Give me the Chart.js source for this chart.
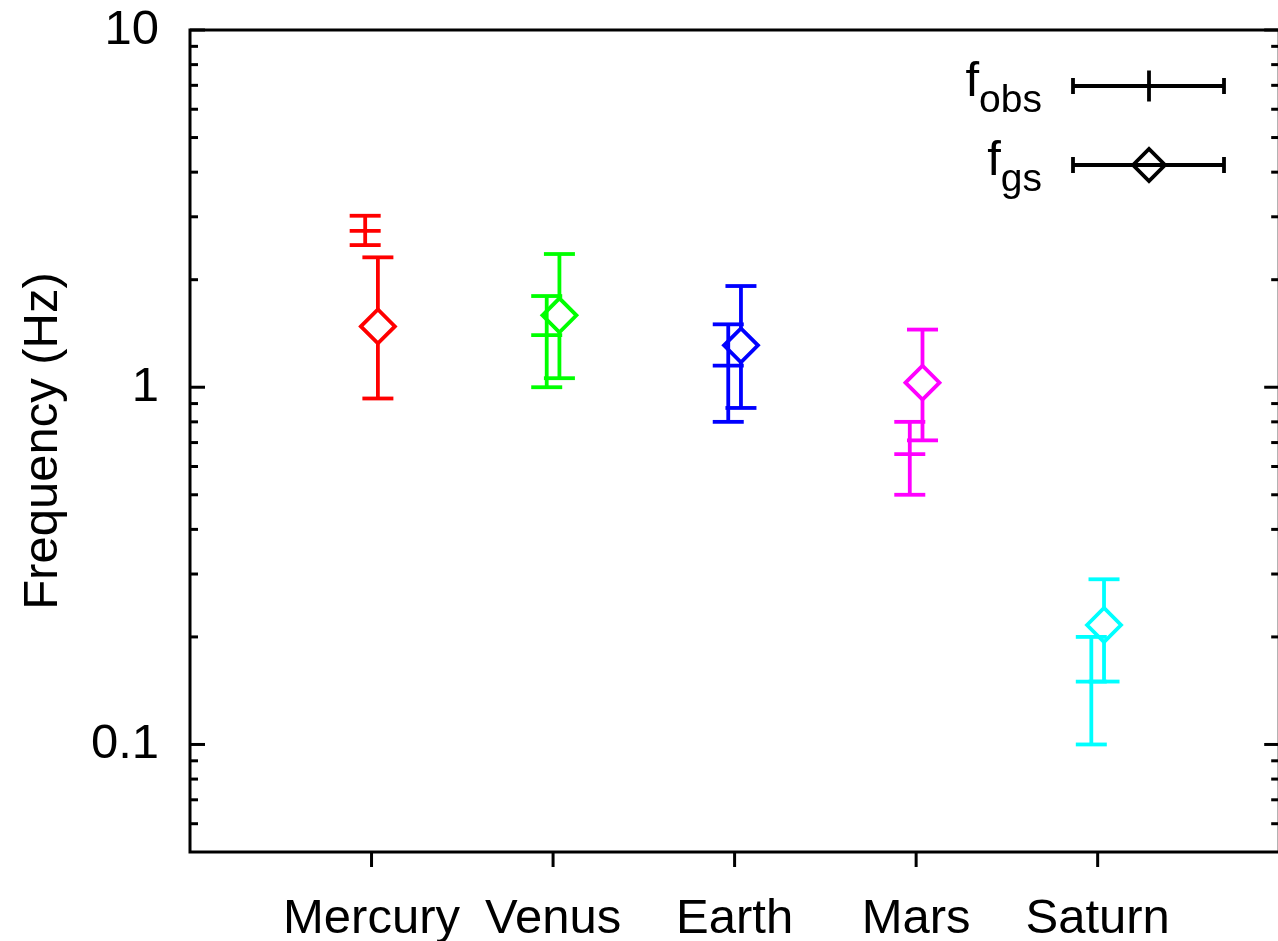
<!DOCTYPE html>
<html>
<head>
<meta charset="utf-8">
<script src="https://cdn.jsdelivr.net/npm/chart.js@4/dist/chart.umd.min.js"></script>
<style>
  html, body { margin: 0; padding: 0; overflow: hidden; background: #fff; }
  canvas { display: block; }
</style>
</head>
<body>
<canvas id="freqchart" width="1300" height="941" style="width:1300px;height:941px"></canvas>
<script>
// planets on the x axis (positions 1..5)
const planets = ['Mercury', 'Venus', 'Earth', 'Mars', 'Saturn'];
const planetcolors = ['#ff0000', '#00ff00', '#0000ff', '#ff00ff', '#00ffff'];

// observed frequency (Hz) with error range
const obsValue = [2.74, 1.40, 1.15, 0.65, 0.15];
const obsLow = [2.50, 1.00, 0.80, 0.50, 0.10];
const obsHigh = [3.02, 1.80, 1.50, 0.80, 0.20];

// gs frequency (Hz) with error range
const gsValue = [1.48, 1.59, 1.31, 1.03, 0.216];
const gsLow = [0.93, 1.06, 0.875, 0.71, 0.15];
const gsHigh = [2.31, 2.36, 1.92, 1.45, 0.29];

// y ticks
const yMajorTicks = [0.1, 1, 10];
const yTickLabels = ['0.1', '1', '10'];
const yMinorTicks = [0.06, 0.07, 0.08, 0.09, 0.2, 0.3, 0.4, 0.5, 0.6, 0.7, 0.8, 0.9, 2, 3, 4, 5, 6, 7, 8, 9];

const obsShift = -0.035;
const gsShift = 0.035;
const capHalf = 15.5;
const diamondR = 17;
const barwidth = 3.8;
const fontname = '"Liberation Sans", Arial, Helvetica, sans-serif';

function obspoints() {
    let pts = [];
    for (let i = 0; i < planets.length; ++i) {
        pts.push({ x: i + 1 + obsShift, y: obsValue[i] });
    }
    return pts;
}
function gspoints() {
    let pts = [];
    for (let i = 0; i < planets.length; ++i) {
        pts.push({ x: i + 1 + gsShift, y: gsValue[i] });
    }
    return pts;
}

function hline(ctx, x1, x2, y) {
    ctx.beginPath();
    ctx.moveTo(x1, y);
    ctx.lineTo(x2, y);
    ctx.stroke();
}
function vline(ctx, x, y1, y2) {
    ctx.beginPath();
    ctx.moveTo(x, y1);
    ctx.lineTo(x, y2);
    ctx.stroke();
}

// frame, inward ticks, x ticks
const framePlugin = {
    id: 'frame',
    afterDraw(chart) {
        const ctx = chart.ctx;
        const a = chart.chartArea;
        const xs = chart.scales.x;
        const ys = chart.scales.y;
        ctx.save();
        ctx.strokeStyle = '#000';
        ctx.lineWidth = 3;
        ctx.lineCap = 'butt';
        ctx.strokeRect(a.left, a.top, a.right - a.left, a.bottom - a.top);
        yMajorTicks.forEach(v => {
            const y = ys.getPixelForValue(v);
            hline(ctx, a.left, a.left + 15, y);
            hline(ctx, a.right - 15, a.right, y);
        });
        yMinorTicks.forEach(v => {
            const y = ys.getPixelForValue(v);
            hline(ctx, a.left, a.left + 8, y);
            hline(ctx, a.right - 8, a.right, y);
        });
        for (let i = 0; i < planets.length; ++i) {
            const x = xs.getPixelForValue(i + 1);
            vline(ctx, x, a.bottom, a.bottom + 15);
        }
        ctx.restore();
    }
};

// error bars
const errorbarPlugin = {
    id: 'errorbars',
    beforeDatasetsDraw(chart) {
        const ctx = chart.ctx;
        const xs = chart.scales.x;
        const ys = chart.scales.y;
        ctx.save();
        ctx.lineWidth = barwidth;
        ctx.lineCap = 'butt';
        for (let i = 0; i < planets.length; ++i) {
            ctx.strokeStyle = planetcolors[i];
            // observed
            let x = xs.getPixelForValue(i + 1 + obsShift);
            let yl = ys.getPixelForValue(obsLow[i]);
            let yh = ys.getPixelForValue(obsHigh[i]);
            vline(ctx, x, yl, yh);
            hline(ctx, x - capHalf, x + capHalf, yl);
            hline(ctx, x - capHalf, x + capHalf, yh);
            // gs, with a gap at the point
            x = xs.getPixelForValue(i + 1 + gsShift);
            yl = ys.getPixelForValue(gsLow[i]);
            yh = ys.getPixelForValue(gsHigh[i]);
            const yc = ys.getPixelForValue(gsValue[i]);
            vline(ctx, x, yh, yc - diamondR);
            vline(ctx, x, yc + diamondR, yl);
            hline(ctx, x - capHalf, x + capHalf, yl);
            hline(ctx, x - capHalf, x + capHalf, yh);
        }
        ctx.restore();
    }
};

// key in the top right corner
const keyPlugin = {
    id: 'key',
    afterDraw(chart) {
        const ctx = chart.ctx;
        const rows = [
            { sub: 'obs', y: 86, marker: 'plus' },
            { sub: 'gs', y: 165, marker: 'diamond' }
        ];
        ctx.save();
        ctx.fillStyle = '#000';
        ctx.strokeStyle = '#000';
        ctx.lineWidth = barwidth;
        rows.forEach(r => {
            ctx.font = '49px ' + fontname;
            const fw = ctx.measureText('f').width;
            ctx.font = '39px ' + fontname;
            const sw = ctx.measureText(r.sub).width;
            const right = 1042;
            const start = right - sw - fw;
            ctx.textAlign = 'left';
            ctx.textBaseline = 'alphabetic';
            ctx.font = '49px ' + fontname;
            ctx.fillText('f', start, r.y + 10);
            ctx.font = '39px ' + fontname;
            ctx.fillText(r.sub, start + fw, r.y + 26);

            hline(ctx, 1073, 1224, r.y);
            vline(ctx, 1073, r.y - 8, r.y + 8);
            vline(ctx, 1224, r.y - 8, r.y + 8);
            if (r.marker == 'plus') {
                vline(ctx, 1149, r.y - 15.5, r.y + 15.5);
            } else {
                ctx.beginPath();
                ctx.moveTo(1149 - 16, r.y);
                ctx.lineTo(1149, r.y - 16);
                ctx.lineTo(1149 + 16, r.y);
                ctx.lineTo(1149, r.y + 16);
                ctx.closePath();
                ctx.stroke();
            }
        });
        ctx.restore();
    }
};

const data = {
    datasets: [
        {
            label: 'f_obs',
            data: obspoints(),
            showLine: false,
            pointStyle: 'line',
            pointRadius: capHalf,
            pointHoverRadius: capHalf,
            pointBorderWidth: barwidth,
            pointBorderColor: planetcolors,
            pointBackgroundColor: planetcolors
        },
        {
            label: 'f_gs',
            data: gspoints(),
            showLine: false,
            pointStyle: 'rectRot',
            pointRadius: diamondR,
            pointHoverRadius: diamondR,
            pointBorderWidth: barwidth,
            pointBorderColor: planetcolors,
            pointBackgroundColor: 'rgba(0,0,0,0)'
        }
    ]
};

const config = {
    type: 'scatter',
    data: data,
    options: {
        responsive: false,
        animation: false,
        devicePixelRatio: 1,
        layout: { padding: { top: 30, right: 16, left: 0, bottom: 0 } },
        plugins: {
            legend: { display: false },
            tooltip: { enabled: false }
        },
        scales: {
            x: {
                type: 'linear',
                min: 0,
                max: 6,
                border: { display: false },
                grid: { display: false, drawTicks: false },
                afterBuildTicks: function (scale) {
                    scale.ticks = planets.map((p, i) => ({ value: i + 1 }));
                },
                afterFit: function (scale) {
                    scale.height = 89;
                    scale.paddingLeft = 0;
                    scale.paddingRight = 0;
                },
                ticks: {
                    autoSkip: false,
                    maxRotation: 0,
                    padding: 38,
                    color: '#000',
                    font: { family: fontname, size: 49 },
                    callback: function (value) {
                        return planets[Math.round(value) - 1];
                    }
                }
            },
            y: {
                type: 'logarithmic',
                min: 0.05,
                max: 10,
                border: { display: false },
                grid: { display: false, drawTicks: false },
                afterBuildTicks: function (scale) {
                    scale.ticks = yMajorTicks.map(v => ({ value: v }));
                },
                afterFit: function (scale) {
                    scale.width = 190;
                    scale.paddingTop = 0;
                    scale.paddingBottom = 0;
                },
                title: {
                    display: true,
                    text: 'Frequency (Hz)',
                    color: '#000',
                    font: { family: fontname, size: 49 },
                    padding: { top: 14, bottom: 0 }
                },
                ticks: {
                    autoSkip: false,
                    padding: 31,
                    color: '#000',
                    font: { family: fontname, size: 49 },
                    callback: function (value) {
                        const k = yMajorTicks.indexOf(value);
                        return k >= 0 ? yTickLabels[k] : '';
                    }
                }
            }
        }
    },
    plugins: [errorbarPlugin, framePlugin, keyPlugin]
};

new Chart(document.getElementById('freqchart'), config);
</script>
</body>
</html>
